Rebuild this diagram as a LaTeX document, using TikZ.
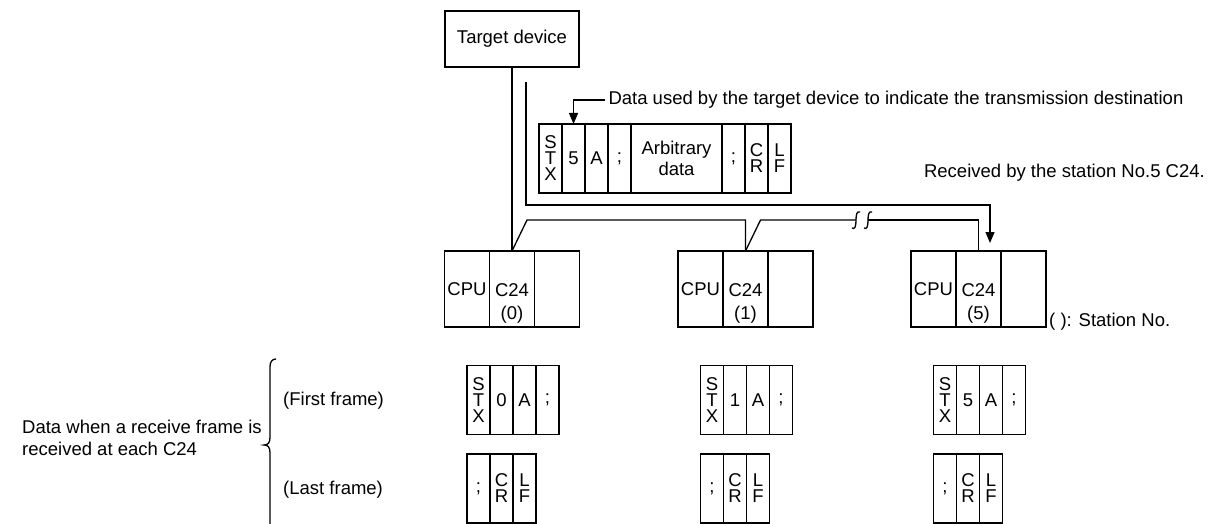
\documentclass[tikz,border=0pt]{standalone}
\usepackage{fontspec}
\setmainfont{Liberation Sans}
\usetikzlibrary{arrows.meta,positioning}

\tikzset{
  unit/.style={draw,line width=1.6pt,minimum width=45pt,minimum height=76pt,inner sep=0pt,outer sep=0pt},
  fcell/.style={draw,line width=1.6pt,minimum width=23pt,minimum height=69pt,inner sep=0pt,outer sep=0pt,align=center,font=\fontsize{18.5}{16}\selectfont},
  wire/.style={line width=1.3pt},
  sendarrow/.style={-{Triangle[length=11pt,width=9pt]}},
}

\begin{document}
\begin{tikzpicture}[x=1pt,y=-1pt,font=\fontsize{18.5}{22}\selectfont]
\useasboundingbox (0,0) rectangle (1209,524);
% target device and the frame it sends
\node[draw,line width=1.3pt,minimum width=134pt,minimum height=56pt,outer sep=0pt] (tdev) at (512,39) {Target device};
\node[fcell] (s0) at (550.5,158.5) {S\\T\\X};
\foreach \i/\j/\txt in {1/0/5,2/1/A,3/2/;}{
  \node[fcell,right=0pt of s\j] (s\i) {\txt};
}
\node[fcell,minimum width=91pt,right=0pt of s3,font=\fontsize{18.5}{21}\selectfont] (s4) {Arbitrary\\data};
\node[fcell,right=0pt of s4] (s5) {;};
\node[fcell,right=0pt of s5] (s6) {C\\R};
\node[fcell,right=0pt of s6] (s7) {L\\F};
\node[anchor=west] (note) at (605,100) {Data used by the target device to indicate the transmission destination};
\draw[wire,sendarrow] (note.west) -| (s1.north);

% stations and the frames they receive
\foreach \i/\x/\n in {0/467/0,1/700.5/1,2/933.5/5}{
  \node[unit] (cpu\i) at (\x,289) {CPU};
  \node[unit,right=0pt of cpu\i] (c24\i) {};
  \node[unit,right=0pt of c24\i] (slot\i) {};
  \node[align=center,inner sep=0pt,font=\fontsize{18.5}{23}\selectfont] (no\i) at ([yshift=-14.5pt]c24\i.center) {C24\\(\n)};
  \node[fcell] (a\i) at (\x+11.5,400) {S\\T\\X};
  \node[fcell,right=0pt of a\i] (b\i) {\n};
  \node[fcell,right=0pt of b\i] (c\i) {A};
  \node[fcell,right=0pt of c\i] (d\i) {;};
  \node[fcell] (e\i) at (\x+11.5,488.5) {;};
  \node[fcell,right=0pt of e\i] (f\i) {C\\R};
  \node[fcell,right=0pt of f\i] (g\i) {L\\F};
}

% link
\draw[wire] (tdev.south) -- (tdev.south |- c240.north);
\coordinate (brk1) at (856,220);
\coordinate (brk2) at (868,220);
\draw[wire] (c240.north) -- ++(15,-31) -| (c241.north);
\draw[wire] (c241.north) -- ++(15,-31) -- (brk1);
\draw[wire] (brk2) -| (c242.north);
\draw[wire] (852,228) .. controls (855,230) and (856,226) .. (856,220) .. controls (856,214) and (857,211) .. (860,212);
\draw[wire] (864,228) .. controls (867,230) and (868,226) .. (868,220) .. controls (868,214) and (869,211) .. (872,212);
\coordinate (dtop) at (526,82);
\coordinate (dend) at (990,243);
\draw[wire,sendarrow] (dtop) |- (dend |- 0,205) -- (dend);

\node[anchor=east,inner sep=0pt] (recv) at (1205,173) {Received by the station No.5 C24.};
\node[anchor=west,inner sep=0pt] (stno) at (1049,322) {( ): Station No.};

% left side
\node[anchor=west,align=left,inner sep=0pt] (desc) at (22,438) {Data when a receive frame is\\received at each C24};
\node[anchor=west,inner sep=0pt] (first) at (283,401) {(First frame)};
\node[anchor=west,inner sep=0pt] (last) at (283,490) {(Last frame)};
\draw[wire] (276,359) .. controls (272,359) and (270,362) .. (270,367) -- (270,437)
  .. controls (270,443) and (268,445) .. (264,445)
  .. controls (268,445) and (270,447) .. (270,453) -- (270,540);
\end{tikzpicture}
\end{document}
